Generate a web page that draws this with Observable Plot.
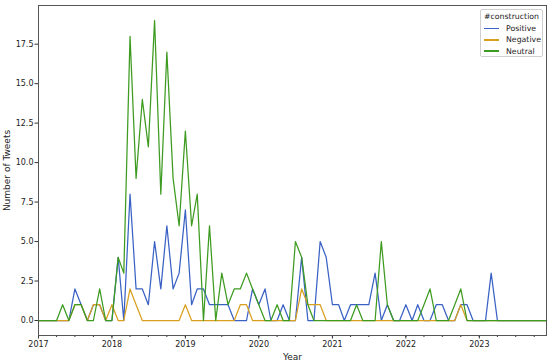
<!DOCTYPE html>
<html>
<head>
<meta charset="utf-8">
<script src="https://cdn.jsdelivr.net/npm/d3@7"></script>
<script src="https://cdn.jsdelivr.net/npm/@observablehq/plot@0.6"></script>
<style>
  html, body { margin: 0; padding: 0; background: #fff; }
  #wrap { position: relative; width: 550px; height: 361px; font-family: "DejaVu Sans", sans-serif; }
  #legend {
    position: absolute; left: 480px; top: 9px; width: 63px; height: 48px;
    box-sizing: border-box; border: 1px solid #d0d0d0; border-radius: 2px;
    background: rgba(255,255,255,0.85); font-size: 7.8px; color: #222;
  }
  #legend .title { text-align: center; margin-top: 1px; height: 12px; line-height: 12px; }
  #legend .row { display: flex; align-items: center; height: 11.3px; }
  #legend .swatch { width: 15px; height: 1.5px; margin-left: 3px; margin-right: 7px; }
</style>
</head>
<body>
<div id="wrap"><div id="legend"></div></div>
<script>
// ---- data (monthly counts, Jan 2017 .. Dec 2023) ----
const startYear = 2017;
const endYear = 2023;
const seriesNames = ["Positive", "Negative", "Neutral"];
const seriesColors = ["#3a62c4", "#d9a020", "#3d9b20"];
const positive = [
  0,0,0,0,0,0, 2,1,0,1,1,0,
  0,4,0,8,2,2, 1,5,2,6,2,3,
  7,1,2,2,1,1, 1,1,0,0,0,2,
  1,2,0,0,1,0, 0,4,0,0,5,4,
  1,1,0,1,1,1, 1,3,0,1,0,0,
  1,0,1,0,0,1, 1,0,0,1,1,0,
  0,0,3,0,0,0, 0,0,0,0,0,0
];
const negative = [
  0,0,0,0,0,0, 1,1,0,1,1,0,
  1,0,0,2,1,0, 0,0,0,0,0,0,
  1,0,0,0,0,0, 0,0,0,1,1,0,
  0,0,0,0,0,0, 0,2,1,1,1,0,
  0,0,0,0,0,0, 0,0,0,0,0,0,
  0,0,0,0,0,0, 0,0,0,1,0,0,
  0,0,0,0,0,0, 0,0,0,0,0,0
];
const neutral = [
  0,0,0,0,1,0, 1,1,0,0,2,0,
  0,4,3,18,9,14, 11,19,8,17,9,6,
  12,6,8,0,6,0, 3,1,2,2,3,2,
  1,0,0,1,0,0, 5,4,1,0,0,0,
  0,0,0,0,1,0, 0,0,5,1,0,0,
  0,0,0,1,2,0, 0,0,1,2,0,0,
  0,0,0,0,0,0, 0,0,0,0,0,0
];
const yTicks = [0, 2.5, 5, 7.5, 10, 12.5, 15, 17.5];
const yearTicks = d3.range(startYear, endYear + 1);
const legendTitle = "#construction";
const xLabel = "Year";
const yLabel = "Number of Tweets";

// ---- build table ----
const months = d3.utcMonth.range(new Date(Date.UTC(startYear, 0, 1)), new Date(Date.UTC(endYear + 1, 0, 1)));
const valuesBySeries = [positive, negative, neutral];
const rows = [];
seriesNames.forEach((s, k) => months.forEach((m, i) => rows.push({date: m, value: valuesBySeries[k][i], series: s})));
const yMax = d3.max(rows, d => d.value);
const pad = 0.05 * yMax;

const chart = Plot.plot({
  width: 550,
  height: 361,
  marginLeft: 38,
  marginRight: 4,
  marginTop: 5,
  marginBottom: 26,
  style: {fontFamily: "DejaVu Sans, sans-serif", fontSize: "8px", background: "#fff", color: "#222"},
  x: {type: "utc", domain: [months[0], months[months.length - 1]]},
  y: {domain: [-pad, yMax + pad]},
  color: {domain: seriesNames, range: seriesColors},
  marks: [
    Plot.axisX({ticks: d3.utcMonth.every(3), tickSize: 2, text: null, label: null, stroke: "#333"}),
    Plot.axisX({ticks: yearTicks.map(y => new Date(Date.UTC(y, 0, 1))), tickSize: 3.5, tickPadding: 2,
      tickFormat: d3.utcFormat("%Y"), label: xLabel, labelAnchor: "center", labelArrow: "none", labelOffset: 24, stroke: "#333"}),
    Plot.axisY({ticks: yTicks, tickSize: 3.5, tickPadding: 1.5, tickFormat: d3.format(".1f"),
      label: yLabel, labelAnchor: "center", labelArrow: "none", labelOffset: 35, stroke: "#333"}),
    Plot.line(rows, {x: "date", y: "value", z: "series", stroke: "series", strokeWidth: 1.25, curve: "linear"}),
    Plot.frame({stroke: "#555", strokeWidth: 1})
  ]
});
chart.querySelectorAll('[aria-label="x-axis label"] text, [aria-label="y-axis label"] text').forEach(t => t.style.fontSize = "9px");
document.getElementById("wrap").prepend(chart);

// ---- legend ----
const legend = document.getElementById("legend");
const t = document.createElement("div");
t.className = "title"; t.textContent = legendTitle; legend.appendChild(t);
seriesNames.forEach((s, k) => {
  const r = document.createElement("div"); r.className = "row";
  const sw = document.createElement("span"); sw.className = "swatch"; sw.style.background = seriesColors[k];
  const lab = document.createElement("span"); lab.textContent = s;
  r.appendChild(sw); r.appendChild(lab); legend.appendChild(r);
});
</script>
</body>
</html>
